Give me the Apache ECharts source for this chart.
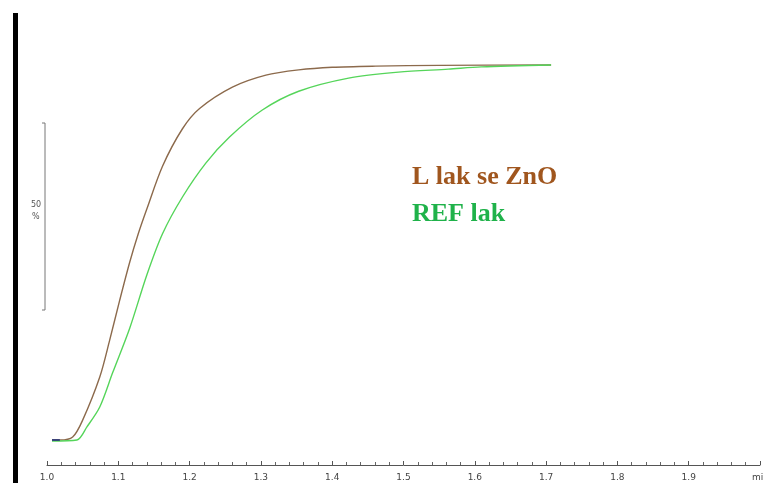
<!DOCTYPE html>
<html>
<head>
<meta charset="utf-8">
<script src="https://cdn.jsdelivr.net/npm/echarts@6/dist/echarts.min.js"></script>
<style>html,body{margin:0;padding:0;background:#fff}#c{width:763px;height:483px}</style>
</head>
<body>
<div id="c"></div>
<script>
// time (min) and relative value (%)
const brownX = [1.007, 1.018, 1.036, 1.050, 1.074, 1.088, 1.102, 1.116, 1.128, 1.140, 1.162, 1.190, 1.214, 1.260, 1.307, 1.353, 1.400, 1.461, 1.550, 1.707];
const brownY = [0, 0, 0.8, 5.3, 16.8, 26.7, 37.3, 47.4, 55.0, 61.6, 73.0, 83.0, 88.4, 94.1, 97.3, 98.7, 99.4, 99.7, 99.9, 100];
const greenX = [1.007, 1.042, 1.056, 1.074, 1.092, 1.116, 1.140, 1.162, 1.190, 1.223, 1.256, 1.302, 1.353, 1.423, 1.493, 1.563, 1.609, 1.707];
const greenY = [-0.3, 0, 3.5, 8.8, 17.9, 29.8, 44.0, 55.0, 64.8, 73.9, 80.8, 88.0, 93.0, 96.5, 98.1, 98.9, 99.5, 100];
const blueX = [1.007, 1.018];
const blueY = [0, 0];
const xTicks = ['1.0','1.1','1.2','1.3','1.4','1.5','1.6','1.7','1.8','1.9'];
const seriesNames = ['L lak se ZnO', 'REF lak'];

const zip = (xs, ys) => xs.map((x, i) => [x, ys[i]]);
const chart = echarts.init(document.getElementById('c'));
chart.setOption({
  animation: false,
  grid: {left: 47, right: 0, top: 0, bottom: 18},
  xAxis: {
    type: 'value', min: 1.0, max: 2.0, interval: 0.1,
    axisLine: {show: true, onZero: false, lineStyle: {color: '#555', width: 1}},
    axisTick: {show: true, inside: true, length: 4, lineStyle: {color: '#555'}},
    minorTick: {show: true, splitNumber: 5, length: 3, lineStyle: {color: '#666'}},
    splitLine: {show: false},
    axisLabel: {
      fontSize: 9, color: '#444', margin: 8, fontFamily: 'DejaVu Sans',
      formatter: v => { const i = Math.round((v - 1.0) * 10); return xTicks[i] !== undefined && Math.abs(v-1.0-i/10)<1e-6 ? xTicks[i] : ''; }
    }
  },
  yAxis: {type: 'value', min: -6.667, max: 117.333, show: false, splitLine: {show: false}},
  series: [
    {name: seriesNames[0], type: 'line', data: zip(brownX, brownY), smooth: 0.3, symbol: 'none',
     lineStyle: {color: '#8c6a4c', width: 1.4}},
    {name: seriesNames[1], type: 'line', data: zip(greenX, greenY), smooth: 0.3, symbol: 'none',
     lineStyle: {color: '#55d55a', width: 1.4}},
    {name: 'start', type: 'line', data: zip(blueX, blueY), symbol: 'none',
     lineStyle: {color: '#1a2a7a', width: 1.6}}
  ],
  graphic: [
    {type: 'rect', shape: {x: 13, y: 13, width: 5, height: 470}, style: {fill: '#000'}},
    {type: 'polyline', shape: {points: [[42, 123], [45, 123], [45, 310], [42, 310]]},
     style: {stroke: '#777', lineWidth: 1, fill: null}},
    {type: 'text', left: 31, top: 201, style: {text: '50', fontSize: 8, fill: '#555', fontFamily: 'DejaVu Sans'}},
    {type: 'text', left: 32, top: 213, style: {text: '%', fontSize: 8, fill: '#555', fontFamily: 'DejaVu Sans'}},
    {type: 'text', left: 752, top: 473, style: {text: 'mi', fontSize: 9, fill: '#444', fontFamily: 'DejaVu Sans'}},
    {type: 'text', left: 412, top: 164, style: {text: seriesNames[0], fontSize: 26, fontWeight: 'bold', fill: '#a0561e', fontFamily: 'Liberation Serif'}},
    {type: 'text', left: 412, top: 201, style: {text: seriesNames[1], fontSize: 26, fontWeight: 'bold', fill: '#1fb24a', fontFamily: 'Liberation Serif'}}
  ]
});
</script>
</body>
</html>
